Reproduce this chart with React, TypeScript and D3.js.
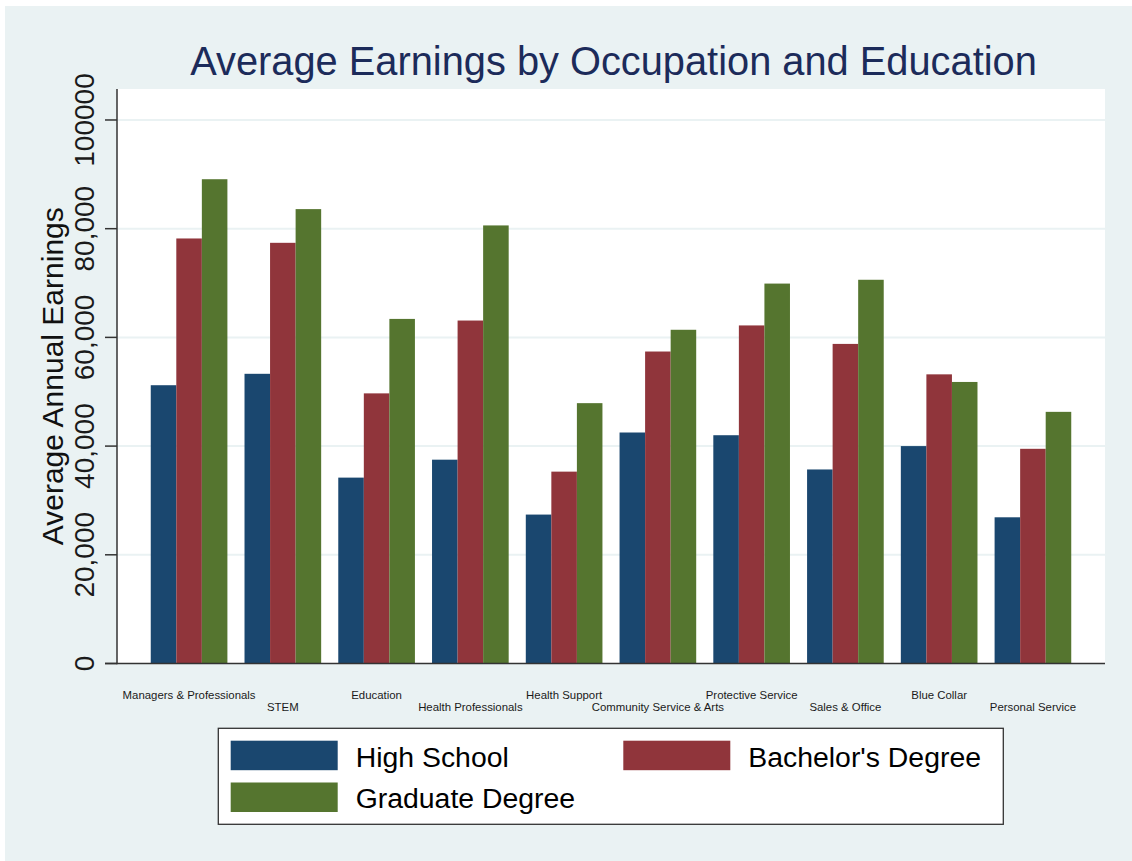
import React from "react";
import * as d3 from "d3";

const categories = [
  "Managers & Professionals",
  "STEM",
  "Education",
  "Health Professionals",
  "Health Support",
  "Community Service & Arts",
  "Protective Service",
  "Sales & Office",
  "Blue Collar",
  "Personal Service",
];
const seriesNames = ["High School", "Bachelor's Degree", "Graduate Degree"];
const highSchool = [51200, 53300, 34200, 37500, 27400, 42500, 42000, 35700, 40000, 26900];
const bachelors = [78200, 77400, 49700, 63100, 35300, 57400, 62200, 58800, 53200, 39500];
const graduate = [89100, 83600, 63400, 80600, 47900, 61400, 69900, 70600, 51800, 46300];
const yTicks = [0, 20000, 40000, 60000, 80000, 100000];
const yTickLabels = ["0", "20,000", "40,000", "60,000", "80,000", "100000"];
const colors = ["#1a476f", "#90353b", "#55752f"];

const W = 1132;
const H = 861;
const plot = { left: 117, right: 1105, top: 89, bottom: 663.5 };
const FONT = "'Liberation Sans', Arial, Helvetica, sans-serif";

export default function App() {
  const series = [highSchool, bachelors, graduate];
  const x0 = d3
    .scaleBand<string>()
    .domain(categories)
    .range([plot.left, plot.right])
    .paddingInner(0.1825)
    .paddingOuter(0.36);
  const x1 = d3
    .scaleBand<string>()
    .domain(seriesNames)
    .range([0, x0.bandwidth()])
    .padding(0);
  const y = d3.scaleLinear().domain([0, 105700]).range([plot.bottom, plot.top]);

  const legendItems = [
    { name: seriesNames[0], color: colors[0], sx: 230.7, tx: 355.7, sy: 740.7, ty: 767.3 },
    { name: seriesNames[1], color: colors[1], sx: 623.3, tx: 748.3, sy: 740.7, ty: 767.3 },
    { name: seriesNames[2], color: colors[2], sx: 230.7, tx: 355.7, sy: 782.5, ty: 807.7 },
  ];

  return (
    <svg
      width={W}
      height={H}
      style={{ position: "absolute", left: 0, top: 0, display: "block" }}
      fontFamily={FONT}
    >
      <rect x={0} y={0} width={W} height={H} fill="#ffffff" />
      <rect x={5} y={6} width={W - 5} height={H - 6} fill="#eaf2f3" />
      <rect
        x={plot.left}
        y={plot.top}
        width={plot.right - plot.left}
        height={plot.bottom - plot.top}
        fill="#ffffff"
      />
      {/* gridlines */}
      {yTicks.slice(1).map((t) => (
        <line
          key={"g" + t}
          x1={plot.left}
          x2={plot.right}
          y1={y(t)}
          y2={y(t)}
          stroke="#eaf2f3"
          strokeWidth={2}
        />
      ))}
      {/* title */}
      <text
        x={613.5}
        y={75}
        textAnchor="middle"
        fontSize={39.8}
        fill="#1c2b5a"
      >
        Average Earnings by Occupation and Education
      </text>
      {/* bars */}
      {categories.map((c, i) => (
        <g key={c} transform={`translate(${x0(c)},0)`}>
          {seriesNames.map((s, j) => (
            <rect
              key={s}
              x={x1(s)}
              y={y(series[j][i])}
              width={x1.bandwidth()}
              height={y(0) - y(series[j][i])}
              fill={colors[j]}
            />
          ))}
        </g>
      ))}
      {/* y axis */}
      <line x1={plot.left} x2={plot.left} y1={plot.top} y2={plot.bottom + 0.75} stroke="#333" strokeWidth={1.5} />
      {yTicks.map((t, i) => (
        <g key={"t" + t}>
          <line x1={105} x2={plot.left} y1={y(t)} y2={y(t)} stroke="#333" strokeWidth={1.5} />
          <text
            transform={`translate(94,${y(t)}) rotate(-90)`}
            textAnchor="middle"
            fontSize={28}
            fill="#1a1a1a"
          >
            {yTickLabels[i]}
          </text>
        </g>
      ))}
      <text
        transform={`translate(62.5,${(plot.top + plot.bottom) / 2}) rotate(-90)`}
        textAnchor="middle"
        fontSize={30}
        fill="#111"
      >
        Average Annual Earnings
      </text>
      {/* x axis */}
      <line x1={105} x2={plot.right} y1={plot.bottom} y2={plot.bottom} stroke="#333" strokeWidth={1.5} />
      {categories.map((c, i) => (
        <text
          key={"xl" + c}
          x={(x0(c) as number) + x0.bandwidth() / 2}
          y={i % 2 === 0 ? 699.3 : 711}
          textAnchor="middle"
          fontSize={11.4}
          fill="#1a1a1a"
        >
          {c}
        </text>
      ))}
      {/* legend */}
      <rect x={218.3} y={728.3} width={785} height={96} fill="#ffffff" stroke="#333" strokeWidth={1.3} />
      {legendItems.map((l) => (
        <g key={l.name}>
          <rect x={l.sx} y={l.sy} width={107} height={29.5} fill={l.color} />
          <text x={l.tx} y={l.ty} fontSize={28.4} fill="#000">
            {l.name}
          </text>
        </g>
      ))}
    </svg>
  );
}
